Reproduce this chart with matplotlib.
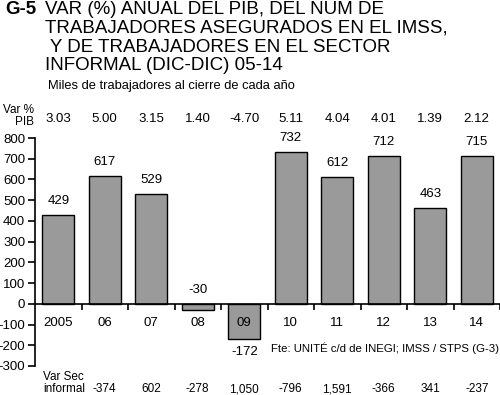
import matplotlib
matplotlib.use("Agg")
import matplotlib.pyplot as plt
import numpy as np

plt.rcParams['font.family'] = ['Liberation Sans', 'DejaVu Sans']

categories = ["2005", "06", "07", "08", "09", "10", "11", "12", "13", "14"]
imss = [429, 617, 529, -30, -172, 732, 612, 712, 463, 715]
pib = ["3.03", "5.00", "3.15", "1.40", "-4.70", "5.11", "4.04", "4.01", "1.39", "2.12"]
informal = ["", "-374", "602", "-278", "1,050", "-796", "1,591", "-366", "341", "-237"]
yticks = [-300, -200, -100, 0, 100, 200, 300, 400, 500, 600, 700, 800]

fig = plt.figure(figsize=(5.0, 3.95), dpi=100)
W, H = 500, 395
ax = fig.add_axes([35 / W, 1 - 366 / H, 465 / W, (366 - 138) / H])

x = np.arange(len(categories))
ax.bar(x, imss, width=0.69, color="#9a9a9a", edgecolor="black", linewidth=1.0, zorder=2)

ax.set_xlim(-0.5, len(categories) - 0.5)
ax.set_ylim(-300, 800)
ax.set_yticks(yticks)
ax.set_yticklabels([str(v) for v in yticks], fontsize=9.5)
ax.set_xticks(np.arange(len(categories)) + 0.5)
ax.set_xticklabels([])
ax.tick_params(axis='x', direction='out', length=4, width=1.2, color='black')
ax.tick_params(axis='y', direction='out', length=5, width=1.2, pad=2)
for s in ['top', 'right']:
    ax.spines[s].set_visible(False)
ax.spines['bottom'].set_position(('data', 0))
ax.spines['bottom'].set_linewidth(1.2)
ax.spines['left'].set_linewidth(1.2)
ax.spines['bottom'].set_zorder(3)

fs = 9.5
for xi, v in zip(x, imss):
    if v >= 0:
        ly = v + 68
    elif v > -100:
        ly = 68
    else:
        ly = v - 62
    ax.text(xi, ly, str(v), ha='center', va='center', fontsize=fs, clip_on=False)
    ax.text(xi, -92, categories[xi], ha='center', va='center', fontsize=fs)

for xi, p in zip(x, pib):
    ax.text(xi, 890, p, ha='center', va='center', fontsize=fs, clip_on=False)
for xi, s in zip(x, informal):
    if s:
        ax.text(xi, -412, s, ha='center', va='center', fontsize=8.5, clip_on=False)

ax.text(-0.52, 937, "Var %", ha='right', va='center', fontsize=8.5, clip_on=False)
ax.text(-0.52, 879, "PIB", ha='right', va='center', fontsize=8.5, clip_on=False)
ax.text(-0.32, -353, "Var Sec", ha='left', va='center', fontsize=8.5, clip_on=False)
ax.text(-0.32, -410, "informal", ha='left', va='center', fontsize=8.5, clip_on=False)
ax.text(9.47, -213, "Fte: UNITÉ c/d de INEGI; IMSS / STPS (G-3)", ha='right', va='center', fontsize=8.2, clip_on=False)

tfs = 13.5
fig.text(5 / W, 1 - 9 / H, "G-5", fontsize=tfs, fontweight='bold', ha='left', va='center')
title_lines = ["VAR (%) ANUAL DEL PIB, DEL NUM DE",
               "TRABAJADORES ASEGURADOS EN EL IMSS,",
               " Y DE TRABAJADORES EN EL SECTOR",
               "INFORMAL (DIC-DIC) 05-14"]
for i, t in enumerate(title_lines):
    fig.text(45 / W, 1 - (9 + 19 * i) / H, t, fontsize=tfs, ha='left', va='center')
fig.text(48 / W, 1 - 86 / H, "Miles de trabajadores al cierre de cada año", fontsize=9.3, ha='left', va='center')

fig.savefig("out.png", dpi=100)
